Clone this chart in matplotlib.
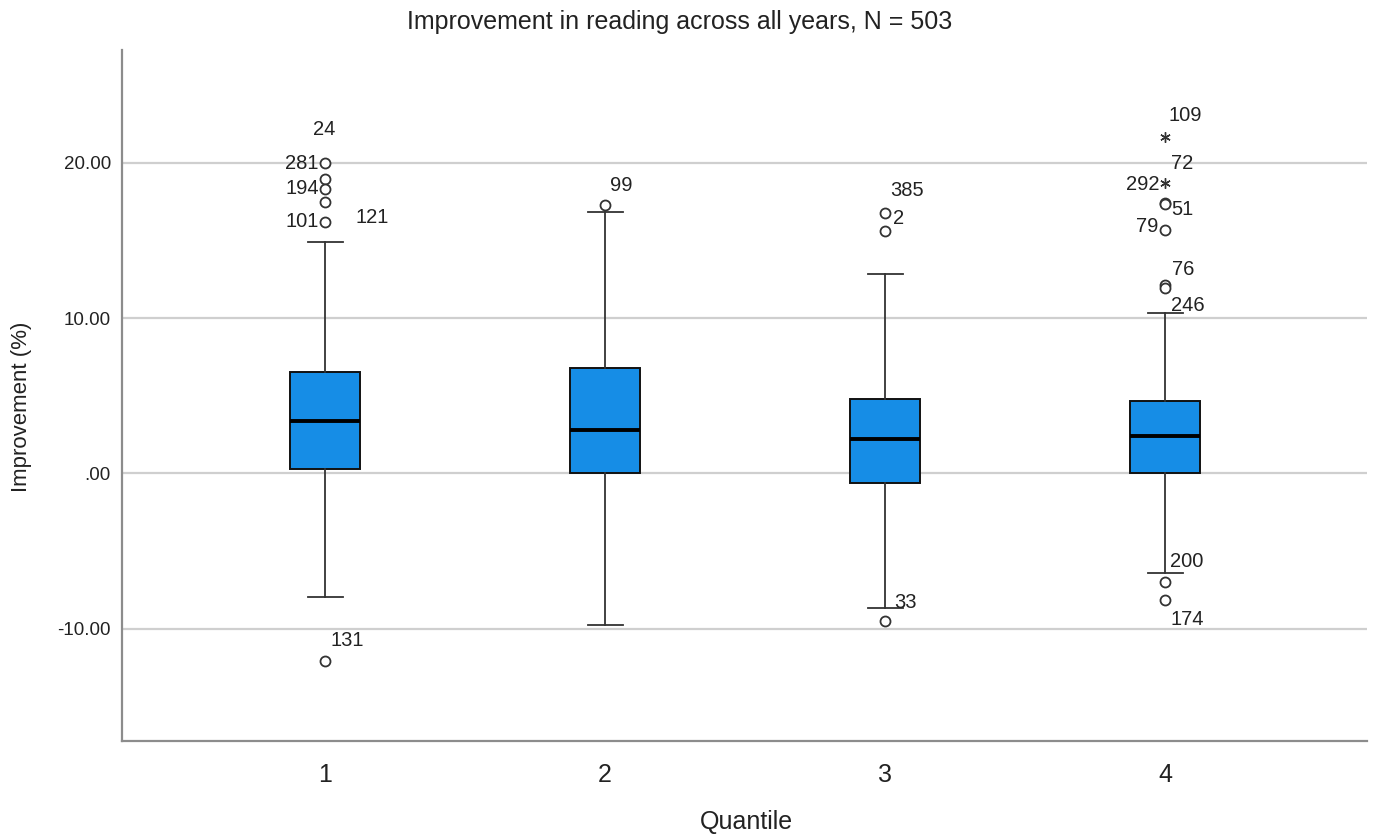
import matplotlib
matplotlib.use("Agg")
import matplotlib.pyplot as plt

plt.rcParams['font.family'] = ['Liberation Sans', 'DejaVu Sans']

# ---- data ----
quantiles = ["1", "2", "3", "4"]
first_quartile = [0.28, 0.00, -0.64, 0.00]
medians = [3.37, 2.79, 2.19, 2.41]
third_quartile = [6.50, 6.78, 4.78, 4.66]
whisker_low = [-7.94, -9.74, -8.67, -6.42]
whisker_high = [14.90, 16.80, 12.84, 10.33]

# outliers (circles)
outlier_group = [1, 1, 1, 1, 1, 1, 2, 3, 3, 3, 4, 4, 4, 4, 4, 4, 4]
outlier_value = [19.96, 18.95, 18.29, 17.49, 16.20, -12.09,
                 17.28,
                 16.78, 15.60, -9.51,
                 17.42, 17.36, 15.67, 12.13, 11.91, -7.02, -8.16]
outlier_id = ["281", "24", "194", "121", "101", "131",
              "99",
              "385", "2", "33",
              "72", "51", "79", "76", "246", "200", "174"]

# extreme values (stars)
extreme_group = [4, 4]
extreme_value = [21.67, 18.67]
extreme_id = ["109", "292"]

yticks = [-10, 0, 10, 20]
ytick_labels = ["-10.00", ".00", "10.00", "20.00"]

# ---- label layout (offsets in pixels from the point) ----
outlier_offsets = [(-23, 0), (-1, 50), (-23, 1), (47, -16), (-23, 0), (22, 21),
                   (16, 19),
                   (22, 22), (13, 13), (20, 18),
                   (17, 39), (17, -6), (-18, 3), (18, 15), (22, -17), (21, 21), (22, -19)]
extreme_offsets = [(20, 21), (-23, -1)]

W, H = 1375, 838
fig = plt.figure(figsize=(W / 100, H / 100), dpi=100)
ax = fig.add_axes([122 / W, 1 - 741 / H, (1367 - 122) / W, (741 - 50) / H])

box_color = '#168de6'
stats = []
for i in range(len(quantiles)):
    stats.append(dict(med=medians[i], q1=first_quartile[i], q3=third_quartile[i],
                      whislo=whisker_low[i], whishi=whisker_high[i], fliers=[]))

positions = list(range(1, len(quantiles) + 1))
ax.bxp(stats, positions=positions, widths=0.25, patch_artist=True,
       showfliers=False,
       boxprops=dict(facecolor=box_color, edgecolor='#111111', linewidth=1.4),
       medianprops=dict(color='#000000', linewidth=2.8),
       whiskerprops=dict(color='#333333', linewidth=1.3),
       capprops=dict(color='#333333', linewidth=1.3),
       capwidths=0.125, zorder=3)

ax.plot(outlier_group, outlier_value, linestyle='none', marker='o',
        markersize=7.2, markerfacecolor='white', markeredgecolor='#333333',
        markeredgewidth=1.3, zorder=4)
ax.plot(extreme_group, extreme_value, linestyle='none', marker=(6, 2, 0),
        markersize=7.5, markeredgecolor='#333333', markeredgewidth=1.0, zorder=4)

for g, v, t, (dx, dy) in zip(outlier_group, outlier_value, outlier_id, outlier_offsets):
    ax.annotate(t, (g, v), xytext=(dx, dy), textcoords='offset pixels',
                ha='center', va='center', fontsize=14.5, color='#222222', zorder=5)
for g, v, t, (dx, dy) in zip(extreme_group, extreme_value, extreme_id, extreme_offsets):
    ax.annotate(t, (g, v), xytext=(dx, dy), textcoords='offset pixels',
                ha='center', va='center', fontsize=14.5, color='#222222', zorder=5)

ax.set_xlim(0.275, 4.72)
ax.set_ylim(-17.24, 27.26)
ax.set_yticks(yticks)
ax.set_yticklabels(ytick_labels, fontsize=13.5, color='#222222')
ax.set_xticks(positions)
ax.set_xticklabels(quantiles, fontsize=18, color='#222222')
ax.tick_params(axis='both', length=0)
ax.tick_params(axis='y', pad=8)
ax.tick_params(axis='x', pad=16)

for y in yticks:
    ax.axhline(y, color='#cfcfcf', linewidth=1.6, zorder=1)

for s in ['top', 'right']:
    ax.spines[s].set_visible(False)
for s in ['left', 'bottom']:
    ax.spines[s].set_color('#8c8c8c')
    ax.spines[s].set_linewidth(1.6)

fig.text(680 / W, 1 - 22.5 / H, "Improvement in reading across all years, N = 503",
         ha='center', va='center', fontsize=18, color='#222222')
fig.text(746 / W, 1 - 822 / H, "Quantile", ha='center', va='center',
         fontsize=18, color='#222222')
fig.text(22 / W, 1 - 407 / H, "Improvement (%)", ha='center', va='center',
         rotation=90, fontsize=16, color='#222222')

fig.savefig("out.png", dpi=100)
